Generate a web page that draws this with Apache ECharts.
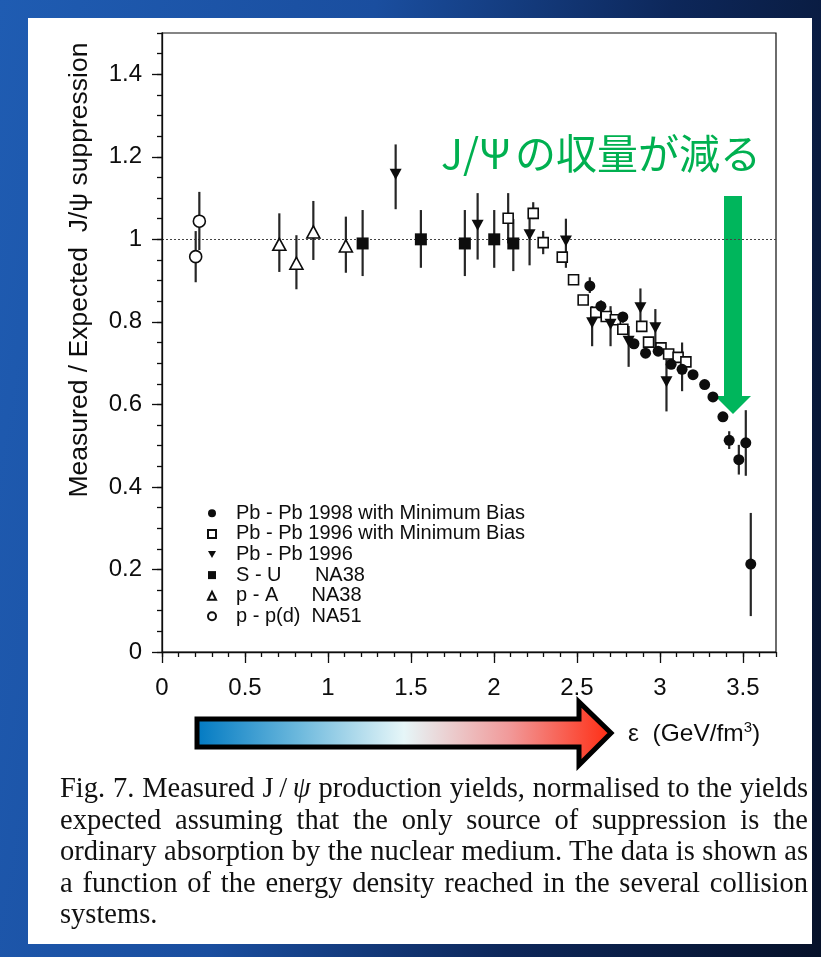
<!DOCTYPE html>
<html lang="en">
<head>
<meta charset="utf-8">
<title>J/ψ suppression versus energy density</title>
<script src="https://cdn.jsdelivr.net/npm/echarts@6.0.0/dist/echarts.min.js"></script>
<style>
  html, body { margin: 0; padding: 0; width: 821px; height: 957px; overflow: hidden; }
  body { position: relative; background: linear-gradient(100deg, #1f5cb2 0%, #1a4e9f 38%, #0d275a 68%, #061129 100%); }
  #sheet { position: absolute; left: 28px; top: 18px; width: 784px; height: 926px; background: #fff; }
  #chart { position: absolute; left: 0; top: 0; width: 821px; height: 957px; }
  #caption { position: absolute; left: 60px; top: 772px; width: 748px;
             font-family: "Liberation Serif", "Times New Roman", serif; font-size: 28.5px;
             line-height: 31.6px; color: #111; }
  #caption .ln { text-align: justify; text-align-last: justify; }
  #caption .ln.last { text-align: left; text-align-last: left; }
</style>
</head>
<body>
<div id="sheet"></div>
<div id="chart"></div>
<div id="caption">
  <div class="ln">Fig. 7. Measured J&thinsp;/&thinsp;<i>ψ</i> production yields, normalised to the yields</div>
  <div class="ln">expected assuming that the only source of suppression is the</div>
  <div class="ln">ordinary absorption by the nuclear medium. The data is shown as</div>
  <div class="ln">a function of the energy density reached in the several collision</div>
  <div class="ln last">systems.</div>
</div>
<script>
// Each point: [energy density ε (GeV/fm³), measured/expected ratio, error low, error high]
// (null error = no visible error bar)
const pbpb1998MinBias = [
  [2.578, 0.887, 0.870, 0.908],
  [2.645, 0.838, 0.822, 0.852],
  [2.777, 0.812, 0.798, 0.824],
  [2.844, 0.747, null, null],
  [2.914, 0.724, null, null],
  [2.990, 0.729, null, null],
  [3.068, 0.697, null, null],
  [3.134, 0.685, 0.632, 0.750],
  [3.200, 0.672, null, null],
  [3.270, 0.648, null, null],
  [3.320, 0.618, null, null],
  [3.380, 0.570, null, null],
  [3.418, 0.513, 0.492, 0.535],
  [3.476, 0.466, 0.430, 0.502],
  [3.518, 0.507, 0.427, 0.586],
  [3.548, 0.213, 0.087, 0.337]
];
const pbpb1996MinBias = [
  [2.086, 1.051, 0.990, 1.112],
  [2.237, 1.063, 1.049, 1.090],
  [2.297, 0.992, 0.964, 1.020],
  [2.412, 0.957, null, null],
  [2.480, 0.902, null, null],
  [2.538, 0.853, null, null],
  [2.614, 0.823, null, null],
  [2.677, 0.813, null, null],
  [2.732, 0.805, null, null],
  [2.777, 0.782, null, null],
  [2.891, 0.789, null, null],
  [2.932, 0.751, null, null],
  [3.007, 0.737, null, null],
  [3.053, 0.722, null, null],
  [3.110, 0.714, null, null],
  [3.157, 0.703, null, null]
];
const pbpb1996 = [
  [1.408, 1.158, 1.073, 1.230],
  [1.902, 1.034, 0.951, 1.112],
  [2.215, 1.011, 0.937, 1.065],
  [2.434, 0.996, 0.931, 1.050],
  [2.592, 0.798, 0.741, 0.838],
  [2.703, 0.794, 0.741, 0.838],
  [2.812, 0.753, 0.691, 0.790],
  [2.883, 0.834, 0.798, 0.881],
  [2.973, 0.786, 0.735, 0.831],
  [3.040, 0.655, 0.583, 0.709]
];
const sU = [
  [1.209, 0.990, 0.911, 1.071],
  [1.560, 1.000, 0.931, 1.071],
  [1.825, 0.990, 0.911, 1.071],
  [2.002, 1.000, 0.931, 1.071],
  [2.117, 0.990, 0.923, 1.049]
];
const pA = [
  [0.707, 0.988, 0.921, 1.063],
  [0.810, 0.942, 0.879, 1.010],
  [0.912, 1.018, 0.950, 1.093],
  [1.108, 0.984, 0.919, 1.055]
];
const ppd = [
  [0.225, 1.044, 0.974, 1.115],
  [0.203, 0.958, 0.896, 1.020]
];

const seriesNames = [
  'Pb - Pb 1998 with Minimum Bias',
  'Pb - Pb 1996 with Minimum Bias',
  'Pb - Pb 1996',
  'S - U      NA38',
  'p - A      NA38',
  'p - p(d)  NA51'
];
const referenceLevel = 1;

const xRange = [0, 3.7];
const yRange = [0, 1.5];

const ink = '#0d0d0d';
const sansFont = '"Liberation Sans", Arial, Helvetica, sans-serif';
const downTriangle = 'path://M0,0 L10,0 L5,9 Z';

const openStyle = { color: '#ffffff', borderColor: ink, borderWidth: 1.6, opacity: 1 };
const filledStyle = { color: ink, opacity: 1 };

const markerSets = [
  { name: seriesNames[0], data: pbpb1998MinBias, symbol: 'circle', size: 11, style: filledStyle },
  { name: seriesNames[1], data: pbpb1996MinBias, symbol: 'rect', size: 10, style: openStyle },
  { name: seriesNames[2], data: pbpb1996, symbol: downTriangle, size: [12, 11], style: filledStyle },
  { name: seriesNames[3], data: sU, symbol: 'rect', size: 12, style: filledStyle },
  { name: seriesNames[4], data: pA, symbol: 'triangle', size: [13, 12], style: openStyle },
  { name: seriesNames[5], data: ppd, symbol: 'circle', size: 12, style: openStyle }
];

// Vertical error bars from every point that carries one
const errorBarData = [];
markerSets.forEach(set => set.data.forEach(p => { if (p[2] != null) errorBarData.push(p); }));

function renderErrorBar(params, api) {
  const x = api.value(0);
  const top = api.coord([x, api.value(3)]);
  const bottom = api.coord([x, api.value(2)]);
  return {
    type: 'line',
    shape: { x1: top[0], y1: top[1], x2: bottom[0], y2: bottom[1] },
    style: { stroke: '#262626', lineWidth: 2.2 }
  };
}

const axisLineStyle = { color: ink, width: 1.3 };

const chart = echarts.init(document.getElementById('chart'), null, { renderer: 'canvas' });

const series = [
  {
    type: 'custom',
    name: 'error bars',
    renderItem: renderErrorBar,
    data: errorBarData,
    encode: { x: 0, y: 1 },
    clip: false,
    z: 1,
    silent: true
  }
].concat(markerSets.map((set, i) => {
  const s = {
    type: 'scatter',
    name: set.name,
    data: set.data.map(p => [p[0], p[1]]),
    symbol: set.symbol,
    symbolSize: set.size,
    itemStyle: set.style,
    z: 3 + (set.style === filledStyle ? 1 : 0),
    silent: true
  };
  if (i === 3) {
    s.markLine = {
      silent: true,
      symbol: 'none',
      label: { show: false },
      lineStyle: { color: '#444', width: 1.1, type: [2, 2], opacity: 1 },
      data: [{ yAxis: referenceLevel }],
      z: 0
    };
  }
  return s;
}));

const option = {
  animation: false,
  backgroundColor: 'transparent',
  textStyle: { fontFamily: sansFont },
  grid: {
    left: 162, right: 45, top: 33, bottom: 305,
    show: true, borderColor: ink, borderWidth: 1.2,
    backgroundColor: 'transparent',
    outerBoundsMode: 'none'
  },
  xAxis: [
    {
      type: 'value', min: xRange[0], max: xRange[1], interval: 0.5, position: 'bottom',
      axisLine: { show: true, onZero: false, lineStyle: axisLineStyle },
      axisTick: { show: true, inside: false, length: 11, lineStyle: axisLineStyle },
      axisLabel: { show: true, showMaxLabel: false, margin: 24, fontSize: 24, color: ink, fontFamily: sansFont },
      splitLine: { show: false }
    },
    {
      type: 'value', min: xRange[0], max: xRange[1], interval: 0.1, position: 'bottom',
      axisLine: { show: false, onZero: false },
      axisTick: { show: true, inside: false, length: 5, lineStyle: axisLineStyle },
      axisLabel: { show: false },
      splitLine: { show: false }
    }
  ],
  yAxis: [
    {
      type: 'value', min: yRange[0], max: yRange[1], interval: 0.2, position: 'left',
      axisLine: { show: true, onZero: false, lineStyle: axisLineStyle },
      axisTick: { show: true, inside: false, length: 10, lineStyle: axisLineStyle },
      axisLabel: { show: true, showMaxLabel: false, margin: 20, fontSize: 24, color: ink, fontFamily: sansFont },
      splitLine: { show: false }
    },
    {
      type: 'value', min: yRange[0], max: yRange[1], interval: 0.05, position: 'left',
      axisLine: { show: false, onZero: false },
      axisTick: { show: true, inside: false, length: 5, lineStyle: axisLineStyle },
      axisLabel: { show: false },
      splitLine: { show: false }
    }
  ],
  legend: {
    orient: 'vertical',
    left: 202, top: 498,
    itemWidth: 8, itemHeight: 8, itemGap: 0,
    selectedMode: false,
    data: seriesNames,
    textStyle: { fontFamily: sansFont, fontSize: 20, color: ink, lineHeight: 20.6, padding: [0, 0, 0, 15] }
  },
  graphic: [
    {
      type: 'text', x: 80, y: 270, rotation: Math.PI / 2,
      style: {
        text: 'Measured / Expected  J/ψ suppression',
        fontFamily: sansFont, fontSize: 26.5, fill: ink,
        align: 'center', verticalAlign: 'middle'
      }
    },
    {
      type: 'text', x: 628, y: 734,
      style: {
        text: 'ε  (GeV/fm{sup|3})',
        fontFamily: sansFont, fontSize: 24.5, fill: ink, lineHeight: 28,
        verticalAlign: 'middle',
        rich: { sup: { fontSize: 15, lineHeight: 28, verticalAlign: 'top', fill: ink, fontFamily: sansFont } }
      }
    },
    {
      type: 'text', x: 441, y: 153,
      style: {
        text: '{a|J/Ψ}{b|の収量が減る}',
        verticalAlign: 'middle',
        rich: {
          a: { fontFamily: '"Noto Sans CJK JP"', fontSize: 41, fill: '#00b050', width: 74 },
          b: { fontFamily: '"Noto Sans CJK JP"', fontSize: 41, fill: '#00b050' }
        }
      }
    },
    {
      // downward green arrow
      type: 'polygon',
      shape: { points: [[724, 196], [742, 196], [742, 396], [751, 396], [733, 414], [715, 396], [724, 396]] },
      style: { fill: '#00b65c' }
    },
    {
      // energy-density arrow, cold to hot
      type: 'polygon',
      shape: { points: [[197, 719], [579, 719], [579, 702], [611, 733], [579, 765], [579, 747], [197, 747]] },
      style: {
        fill: new echarts.graphic.LinearGradient(0, 0, 1, 0, [
          { offset: 0, color: '#0079c2' },
          { offset: 0.25, color: '#6db9dd' },
          { offset: 0.5, color: '#e6f6f8' },
          { offset: 0.75, color: '#f19a9a' },
          { offset: 1, color: '#ff2a10' }
        ]),
        stroke: '#000', lineWidth: 5, lineJoin: 'miter'
      }
    }
  ],
  series: series
};

chart.setOption(option);
</script>
</body>
</html>
